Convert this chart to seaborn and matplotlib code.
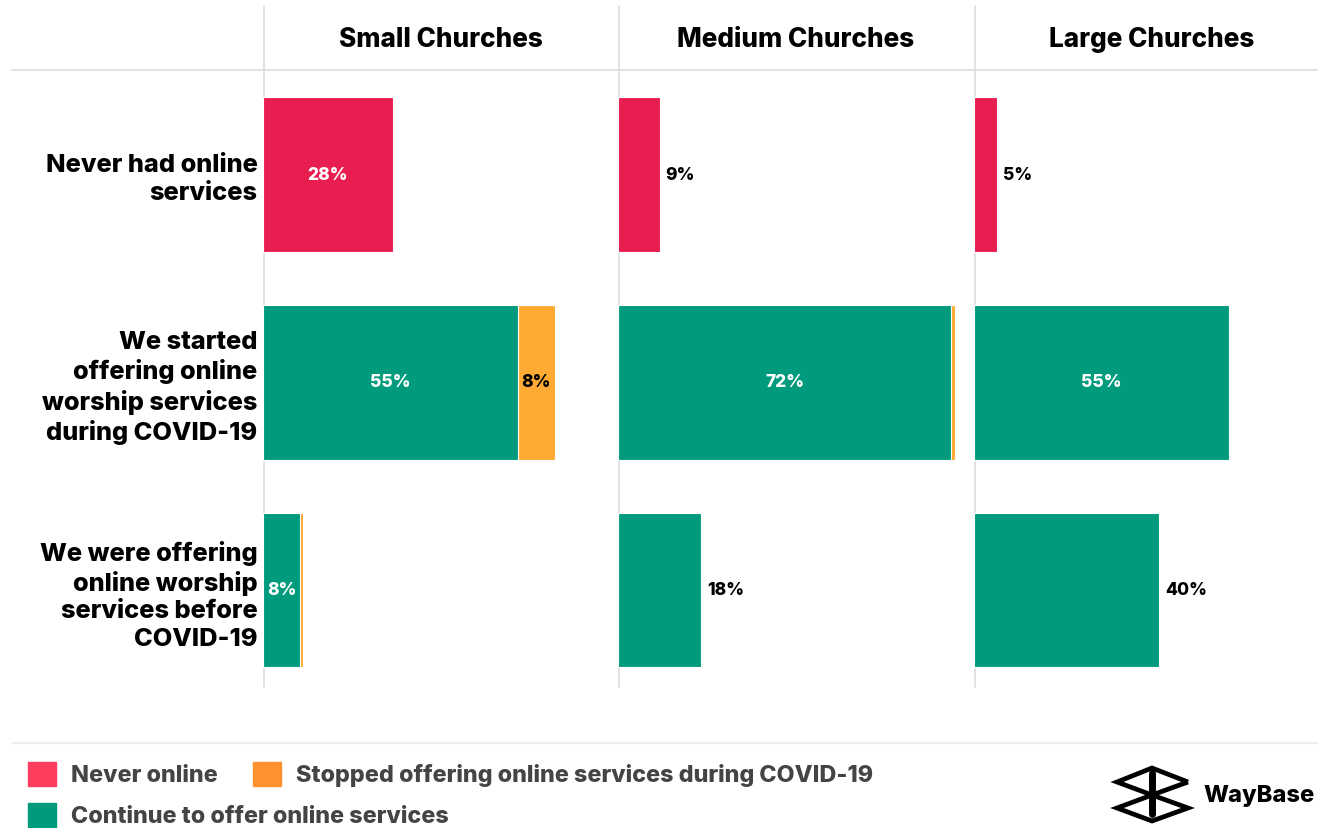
import matplotlib
matplotlib.use("Agg")
import matplotlib.pyplot as plt
import seaborn as sns
import pandas as pd
from matplotlib.patches import Patch

# ---------------- data ----------------
panels = ["Small Churches", "Medium Churches", "Large Churches"]
categories = ["Never had online\nservices",
              "We started\noffering online\nworship services\nduring COVID-19",
              "We were offering\nonline worship\nservices before\nCOVID-19"]
never_online = [28, 9, 5]
started_continue = [55, 72, 55]
started_stopped = [8, 0.8, 0]
before_continue = [8, 18, 40]
before_stopped = [0.7, 0, 0]
legend_labels = ["Never online",
                 "Stopped offering online services during COVID-19",
                 "Continue to offer online services"]

# ---------------- style ----------------
never_label_inside = [True, False, False]
before_label_inside = [True, False, False]

C_PINK = "#E91E50"
C_TEAL = "#009B7D"
C_ORANGE = "#FFAA33"
L_PINK = "#FF3D5F"
L_ORANGE = "#FF9130"
GRID = "#DDDDDD"

sns.set_theme(style="white")
plt.rcParams["font.family"] = ["Inter", "DejaVu Sans"]

W, H = 1318, 829
fig = plt.figure(figsize=(W / 100, H / 100), dpi=100)
fig.patch.set_facecolor("white")

# overlay (decorations) in pixel coordinates, behind the panels
ov = fig.add_axes([0, 0, 1, 1], zorder=-1)
ov.set_xlim(0, W)
ov.set_ylim(H, 0)
ov.axis("off")
ov.plot([12, W], [71, 71], color=GRID, lw=1.2)
ov.plot([12, W], [744, 744], color="#EEEEEE", lw=1.5)
panel_left = [264, 619, 975]
for xv in panel_left:
    ov.plot([xv, xv], [7, 688], color=GRID, lw=1.2)

ax_top, ax_bot = 71, 695
pw = 355
xmax = pw / 4.63
bar_h = 155 / 208

for i, name in enumerate(panels):
    left = panel_left[i] - 1
    ax = fig.add_axes([left / W, 1 - ax_bot / H, pw / W, (ax_bot - ax_top) / H])
    ax.set_facecolor("none")

    cont = [started_continue[i], before_continue[i]]
    stop = [started_stopped[i], before_stopped[i]]
    df_total = pd.DataFrame({"cat": categories[1:], "value": [c + s for c, s in zip(cont, stop)]})
    df_cont = pd.DataFrame({"cat": categories[1:], "value": cont})
    df_never = pd.DataFrame({"cat": categories[:1], "value": [never_online[i]]})

    common = dict(x="value", y="cat", order=categories, width=bar_h, ax=ax,
                  saturation=1, errorbar=None, edgecolor="white", linewidth=0.8)
    sns.barplot(data=df_total, color=C_ORANGE, **common)
    sns.barplot(data=df_cont, color=C_TEAL, **common)
    sns.barplot(data=df_never, color=C_PINK, **common)

    ax.set_xlim(0, xmax)
    ax.set_ylim(2.5, -0.5)
    ax.set_xlabel("")
    ax.set_ylabel("")
    ax.set_xticks([])
    for s in ax.spines.values():
        s.set_visible(False)
    if i == 0:
        ax.tick_params(axis="y", length=0, pad=4)
        for t in ax.get_yticklabels():
            t.set_fontsize(18.3)
            t.set_fontweight("heavy")
            t.set_color("black")
            t.set_linespacing(1.26)
    else:
        ax.set_yticks([])

    ax.text(0.5, (ax_bot - 40) / (ax_bot - ax_top), name, transform=ax.transAxes,
            ha="center", va="center", fontsize=18.8, fontweight="heavy", color="black")

    lab = dict(fontsize=12.5, fontweight="heavy", va="center")
    # never row
    v = never_online[i]
    if never_label_inside[i]:
        ax.text(v / 2, 0, f"{v:g}%", ha="center", color="white", **lab)
    else:
        ax.annotate(f"{v:g}%", (v, 0), xytext=(4, 0), textcoords="offset points",
                    ha="left", color="black", **lab)
    # started row
    v = started_continue[i]
    ax.text(v / 2, 1, f"{v:g}%", ha="center", color="white", **lab)
    s = started_stopped[i]
    if s >= 2:
        ax.text(v + s / 2, 1, f"{s:g}%", ha="center", color="black", **lab)
    # before row
    v = before_continue[i]
    if before_label_inside[i]:
        ax.text(v / 2, 2, f"{v:g}%", ha="center", color="white", **lab)
    else:
        ax.annotate(f"{v:g}%", (v, 2), xytext=(4, 0), textcoords="offset points",
                    ha="left", color="black", **lab)

# ---------------- legend ----------------
leg_kw = dict(frameon=False, handlelength=1.2, handleheight=1.2,
              handletextpad=0.65, columnspacing=1.5, borderaxespad=0, borderpad=0,
              prop={"weight": "heavy", "size": 16.8})
leg1 = fig.legend(handles=[Patch(color=L_PINK), Patch(color=L_ORANGE)],
                  labels=[legend_labels[0], legend_labels[1]], ncol=2,
                  loc="center left", bbox_to_anchor=(28 / W, 1 - 775 / H), **leg_kw)
leg2 = fig.legend(handles=[Patch(color=C_TEAL)], labels=[legend_labels[2]], ncol=1,
                  loc="center left", bbox_to_anchor=(28 / W, 1 - 816 / H), **leg_kw)
for lg in (leg1, leg2):
    for t in lg.get_texts():
        t.set_color("#444444")

# ---------------- logo ----------------
lw = 3.4
T, L1, R1, C = (1152, 769), (1117, 783), (1188, 783), (1152, 796)
L2, R2, B = (1117, 809), (1188, 809), (1152, 822)
path = [R1, T, L1, C, R2, B, L2, C, R1]
ov.plot([p[0] for p in path], [p[1] for p in path], color="black", lw=lw,
        solid_joinstyle="miter", solid_capstyle="butt")
ov.plot([1152, 1152], [774, 815], color="black", lw=5)
ov.text(1315, 796, "WayBase", ha="right", va="center", fontsize=17,
        fontweight="heavy", color="black")

fig.savefig("out.png", dpi=100, facecolor="white")
